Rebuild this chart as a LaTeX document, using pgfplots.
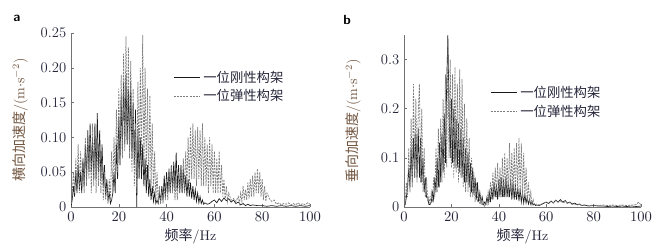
\documentclass[border=0pt]{standalone}
\usepackage{pgfplots}
\pgfplotsset{compat=1.18}
\usepackage{fontspec}
\newfontfamily\cjk{Noto Sans CJK SC}
\definecolor{labcol}{RGB}{112,84,62}
\definecolor{tickcol}{RGB}{38,38,58}
\definecolor{rigcol}{RGB}{25,25,25}
\definecolor{elacol}{RGB}{125,125,125}
\pgfplotsset{
  spec/.style={
    scale only axis, enlargelimits=false,
    axis x line*=bottom, axis y line*=left,
    axis line style={black!55, line width=0.5pt},
    tick align=inside, major tick length=2pt,
    every tick/.style={black!55},
    tick label style={font=\fontsize{11}{12}\selectfont, text=tickcol},
    xmin=0, xmax=100, xtick={0,20,...,100},
    x label style={at={(axis description cs:0.5,-0.17)}, anchor=center, font=\fontsize{10.5}{12}\selectfont, text=tickcol},
    y label style={anchor=center, font=\fontsize{10.5}{12}\selectfont, text=labcol},
    xlabel={{\cjk 频率}/Hz},
    legend style={draw=none, fill=none, inner sep=0pt, row sep=0pt,
      font=\fontsize{10}{12}\selectfont, text=tickcol, cells={anchor=west}},
    legend image code/.code={\draw[#1] (0pt,0pt) -- (20pt,0pt);},
  },
  rig/.style={rigcol, line width=0.5pt},
  ela/.style={elacol, line width=0.55pt, dash pattern=on 1.5pt off 0.9pt},
}
\begin{document}
\begin{tikzpicture}
\path[use as bounding box] (0,0) rectangle (492pt,187.5pt);
\node[anchor=center, font=\sffamily\bfseries] at (12.75pt,174pt) {a};
\node[anchor=center, font=\sffamily\bfseries] at (260.25pt,172.5pt) {b};
% ---------------- panel a
\begin{axis}[spec, at={(53.25pt,32.25pt)}, anchor=south west,
  width=179.25pt, height=130.5pt,
  ymin=0, ymax=0.25, ytick={0,0.05,0.10,0.15,0.20,0.25},
  yticklabels={0,0.05,0.10,0.15,0.20,0.25},
  y label style={at={(axis description cs:-0.213,0.5)}},
  ylabel={{\cjk 横向加速度}/(m$\cdot$s$^{-2}$)},
  legend style={at={(axis description cs:0.427,0.80)}, anchor=north west}]
\addplot[rig] table {
0 0.0
0.5 0.01
1 0.03
1.5 0.015
2 0.05
2.5 0.02
3 0.06
3.5 0.025
4 0.05
4.5 0.02
5 0.07
5.5 0.03
6 0.09
6.5 0.04
7 0.11
7.5 0.05
8 0.12
8.5 0.05
9 0.10
9.5 0.04
10 0.12
10.5 0.04
11 0.135
11.5 0.05
12 0.11
12.5 0.04
13 0.09
13.5 0.03
14 0.06
14.5 0.015
15 0.04
15.5 0.01
16 0.02
16.5 0.005
17 0.01
17.5 0.02
18 0.05
18.5 0.02
19 0.09
19.5 0.04
20 0.13
20.5 0.06
21 0.16
21.5 0.08
22 0.18
22.5 0.09
23 0.19
23.5 0.09
24 0.17
24.5 0.08
25 0.18
25.5 0.07
26 0.15
26.5 0.06
27 0.14
27.5 0.0
28 0.11
28.5 0.04
29 0.10
29.5 0.04
30 0.09
30.5 0.03
31 0.07
31.5 0.02
32 0.06
32.5 0.015
33 0.04
33.5 0.01
34 0.03
34.5 0.008
35 0.02
35.5 0.005
36 0.01
36.5 0.005
37 0.02
37.5 0.008
38 0.03
38.5 0.01
39 0.045
39.5 0.015
40 0.05
40.5 0.02
41 0.055
41.5 0.02
42 0.06
42.5 0.025
43 0.065
43.5 0.025
44 0.078
44.5 0.025
45 0.06
45.5 0.02
46 0.06
46.5 0.02
47 0.055
47.5 0.02
48 0.045
48.5 0.015
49 0.04
49.5 0.015
50 0.035
50.5 0.012
51 0.03
51.5 0.01
52 0.025
52.5 0.008
53 0.02
53.5 0.006
54 0.015
54.5 0.005
55 0.01
55.5 0.004
56 0.006
57 0.004
58 0.005
59 0.008
60 0.01
61 0.006
62 0.012
63 0.008
64 0.013
65 0.009
66 0.012
67 0.007
68 0.01
69 0.005
70 0.007
71 0.003
72 0.005
73 0.002
74 0.004
75 0.002
76 0.003
78 0.002
80 0.002
82 0.001
84 0.002
86 0.001
88 0.002
90 0.001
92 0.002
94 0.001
96 0.002
98 0.001
100 0.002
};
\addlegendentry{\cjk 一位刚性构架}
\addplot[ela] table {
0 0
0.5 0.02
1 0.05
1.5 0.02
2 0.07
2.5 0.03
3 0.09
3.5 0.02
4 0.08
4.5 0.03
5 0.06
5.5 0.02
6 0.10
6.5 0.03
7 0.11
7.5 0.04
8 0.10
8.5 0.02
9 0.12
9.5 0.03
10 0.11
10.5 0.02
11 0.10
11.5 0.03
12 0.09
12.5 0.02
13 0.07
13.5 0.01
14 0.05
14.5 0.01
15 0.03
15.5 0.005
16 0.04
16.5 0.01
17 0.08
17.5 0.02
18 0.10
18.5 0.03
19 0.14
19.5 0.05
20 0.17
20.5 0.06
21 0.19
21.5 0.07
22 0.22
22.5 0.08
23 0.245
23.5 0.09
24 0.23
24.5 0.07
25 0.21
25.5 0.05
26 0.17
26.5 0.03
27 0.12
27.5 0.02
28 0.18
28.5 0.05
29 0.20
29.5 0.06
30 0.247
30.5 0.05
31 0.20
31.5 0.04
32 0.17
32.5 0.03
33 0.16
33.5 0.03
34 0.12
34.5 0.02
35 0.08
35.5 0.01
36 0.05
36.5 0.005
37 0.03
37.5 0.005
38 0.02
38.5 0.005
39 0.03
39.5 0.01
40 0.04
40.5 0.01
41 0.05
41.5 0.02
42 0.06
42.5 0.02
43 0.05
43.5 0.01
44 0.04
44.5 0.01
45 0.05
45.5 0.02
46 0.06
46.5 0.02
47 0.07
47.5 0.02
48 0.08
48.5 0.03
49 0.10
49.5 0.03
50 0.115
50.5 0.04
51 0.12
51.5 0.04
52 0.11
52.5 0.03
53 0.115
53.5 0.04
54 0.11
54.5 0.03
55 0.12
55.5 0.03
56 0.10
56.5 0.03
57 0.09
57.5 0.02
58 0.10
58.5 0.03
59 0.09
59.5 0.02
60 0.08
60.5 0.02
61 0.07
61.5 0.02
62 0.08
62.5 0.02
63 0.06
63.5 0.015
64 0.04
64.5 0.01
65 0.03
65.5 0.008
66 0.02
67 0.01
68 0.012
69 0.008
70 0.015
70.5 0.005
71 0.02
71.5 0.008
72 0.03
72.5 0.01
73 0.025
73.5 0.01
74 0.035
74.5 0.012
75 0.04
75.5 0.015
76 0.045
76.5 0.015
77 0.05
77.5 0.02
78 0.055
78.5 0.02
79 0.05
79.5 0.015
80 0.04
80.5 0.01
81 0.03
81.5 0.008
82 0.02
83 0.012
84 0.008
85 0.01
86 0.004
87 0.006
88 0.003
89 0.005
90 0.004
91 0.006
92 0.003
93 0.005
94 0.003
95 0.006
96 0.003
97 0.005
98 0.003
99 0.006
100 0.004
};
\addlegendentry{\cjk 一位弹性构架}
\end{axis}
% ---------------- panel b
\begin{axis}[spec, at={(303pt,32.25pt)}, anchor=south west,
  width=177.75pt, height=129pt,
  ymin=0, ymax=0.35, ytick={0,0.1,0.2,0.3},
  yticklabels={0,0.1,0.2,0.3},
  y label style={at={(axis description cs:-0.215,0.5)}},
  ylabel={{\cjk 垂向加速度}/(m$\cdot$s$^{-2}$)},
  legend style={at={(axis description cs:0.363,0.72)}, anchor=north west}]
\addplot[rig] table {
0 0
0.5 0.005
1 0.02
1.5 0.04
2 0.08
2.5 0.04
3 0.12
3.5 0.05
4 0.14
4.5 0.06
5 0.15
5.5 0.06
6 0.16
6.5 0.06
7 0.14
7.5 0.05
8 0.10
8.5 0.03
9 0.06
9.5 0.02
10 0.02
10.5 0.005
11 0.005
11.5 0.01
12 0.03
12.5 0.015
13 0.06
13.5 0.03
14 0.10
14.5 0.04
15 0.13
15.5 0.05
16 0.15
16.5 0.07
17 0.19
17.5 0.09
18 0.25
18.5 0.35
19 0.20
19.5 0.10
20 0.22
20.5 0.09
21 0.20
21.5 0.08
22 0.18
22.5 0.08
23 0.17
23.5 0.07
24 0.16
24.5 0.06
25 0.14
25.5 0.05
26 0.12
26.5 0.05
27 0.11
27.5 0.04
28 0.09
28.5 0.03
29 0.08
29.5 0.025
30 0.06
30.5 0.015
31 0.05
31.5 0.01
32 0.03
32.5 0.008
33 0.02
33.5 0.005
34 0.01
34.5 0.005
35 0.02
35.5 0.008
36 0.03
36.5 0.01
37 0.04
37.5 0.015
38 0.05
38.5 0.02
39 0.045
39.5 0.015
40 0.055
40.5 0.02
41 0.06
41.5 0.02
42 0.055
42.5 0.02
43 0.06
43.5 0.02
44 0.05
44.5 0.02
45 0.055
45.5 0.015
46 0.05
46.5 0.015
47 0.045
47.5 0.015
48 0.04
48.5 0.012
49 0.035
49.5 0.01
50 0.03
50.5 0.008
51 0.025
51.5 0.008
52 0.02
52.5 0.006
53 0.015
53.5 0.005
54 0.01
54.5 0.004
55 0.006
55.5 0.003
56 0.004
57 0.003
58 0.005
59 0.008
60 0.01
61 0.007
62 0.012
63 0.008
64 0.014
65 0.01
66 0.015
67 0.01
68 0.013
69 0.008
70 0.01
71 0.006
72 0.008
73 0.005
74 0.006
75 0.003
76 0.004
78 0.002
80 0.003
82 0.002
84 0.002
86 0.001
88 0.002
90 0.001
92 0.002
94 0.001
96 0.002
98 0.001
100 0.002
};
\addlegendentry{\cjk 一位刚性构架}
\addplot[ela] table {
0 0
0.5 0.01
1 0.05
1.5 0.02
2 0.12
2.5 0.03
3 0.18
3.5 0.04
4 0.25
4.5 0.06
5 0.22
5.5 0.05
6 0.19
6.5 0.25
7 0.05
7.5 0.20
8 0.03
8.5 0.12
9 0.02
9.5 0.06
10 0.01
10.5 0.02
11 0.005
11.5 0.03
12 0.01
12.5 0.06
13 0.02
13.5 0.12
14 0.03
14.5 0.16
15 0.04
15.5 0.18
16 0.05
16.5 0.22
17 0.06
17.5 0.27
18 0.08
18.5 0.33
19 0.10
19.5 0.30
20 0.08
20.5 0.27
21 0.06
21.5 0.285
22 0.07
22.5 0.25
23 0.05
23.5 0.28
24 0.06
24.5 0.26
25 0.04
25.5 0.21
26 0.03
26.5 0.18
27 0.03
27.5 0.14
28 0.02
28.5 0.10
29 0.02
29.5 0.07
30 0.01
30.5 0.05
31 0.01
31.5 0.03
32 0.005
32.5 0.02
33 0.003
33.5 0.01
34 0.002
34.5 0.01
35 0.005
35.5 0.03
36 0.01
36.5 0.05
37 0.015
37.5 0.07
38 0.02
38.5 0.08
39 0.02
39.5 0.09
40 0.02
40.5 0.08
41 0.02
41.5 0.10
42 0.02
42.5 0.11
43 0.02
43.5 0.10
44 0.02
44.5 0.13
45 0.03
45.5 0.11
46 0.02
46.5 0.12
47 0.02
47.5 0.13
48 0.03
48.5 0.14
49 0.03
49.5 0.13
50 0.02
50.5 0.11
51 0.02
51.5 0.08
52 0.01
52.5 0.05
53 0.01
53.5 0.03
54 0.005
54.5 0.015
55 0.004
56 0.006
57 0.004
58 0.006
59 0.008
60 0.01
61 0.008
62 0.012
63 0.009
64 0.013
65 0.01
66 0.012
67 0.009
68 0.01
69 0.007
70 0.009
71 0.005
72 0.006
73 0.004
74 0.005
75 0.003
76 0.004
78 0.003
80 0.004
82 0.003
84 0.004
86 0.003
88 0.004
90 0.003
92 0.004
94 0.003
96 0.004
98 0.005
99 0.01
100 0.004
};
\addlegendentry{\cjk 一位弹性构架}
\end{axis}
\end{tikzpicture}
\end{document}
